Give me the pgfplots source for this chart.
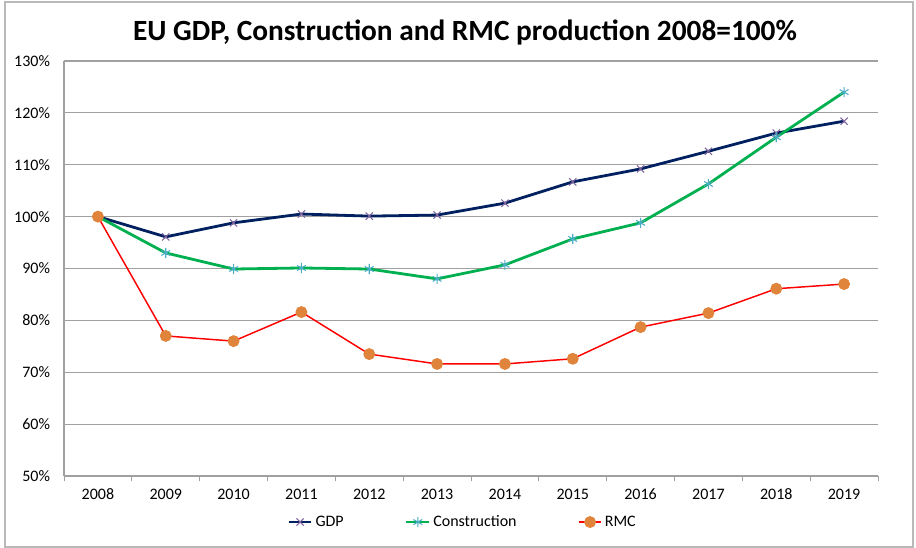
\documentclass[border=0pt]{standalone}
\usepackage{pgfplots}
\pgfplotsset{compat=1.18}
\usepackage{fontspec}
\setmainfont{Carlito}
\definecolor{gdpline}{HTML}{002060}
\definecolor{gdpmark}{HTML}{7E649E}
\definecolor{conline}{HTML}{00B050}
\definecolor{conmark}{HTML}{4BACC6}
\definecolor{rmcline}{HTML}{FF0000}
\definecolor{rmcmark}{HTML}{E0843C}
\definecolor{gridgray}{HTML}{A0A0A0}

\begin{document}
\begin{tikzpicture}
% page frame: 916 x 548 px at 0.75pt per px
\path[use as bounding box] (0pt,0pt) rectangle (687pt,411pt);
\draw[gray!55, line width=0.8pt] (3.75pt,0.75pt) rectangle (684.75pt,409.5pt);
\node[font=\bfseries\fontsize{22}{26}\selectfont] at (348.75pt,386.25pt) {EU GDP, Construction and RMC production 2008=100\%};
\begin{axis}[
    at={(48pt,54pt)}, anchor=south west,
    scale only axis,
    width=610.5pt, height=311.25pt,
    xmin=-0.5, xmax=11.5,
    ymin=50, ymax=130,
    xtick={0,...,11},
    xticklabels={2008,2009,2010,2011,2012,2013,2014,2015,2016,2017,2018,2019},
    minor xtick={-0.5,0.5,...,11.5},
    ytick={50,60,...,130},
    yticklabel={\pgfmathprintnumber{\tick}\%},
    /pgf/number format/assume math mode=true,
    ticklabel style={font=\fontsize{12}{14}\selectfont},
    xticklabel style={yshift=-6pt},
    yticklabel style={xshift=-7pt},
    major tick length=0pt,
    minor tick length=4pt,
    tick align=outside,
    tick style={gridgray, line width=0.7pt},
    axis x line*=bottom,
    axis y line*=left,
    axis line style={gridgray, line width=0.9pt},
    ymajorgrids,
    grid style={gridgray, line width=0.8pt},
    legend columns=3,
    legend style={draw=none, fill=none, at={(0.49,-0.111)}, anchor=center,
        font=\fontsize{12}{14}\selectfont,
        /tikz/every even column/.append style={column sep=44pt}},
    legend cell align=left,
]
\addplot[gdpline, line width=2.1pt, mark=x, mark size=3.8pt,
    mark options={gdpmark, line width=0.8pt}] coordinates {
    (0,100) (1,96.1) (2,98.8) (3,100.5) (4,100.1) (5,100.3)
    (6,102.6) (7,106.7) (8,109.2) (9,112.6) (10,116.1) (11,118.4)
};
\addlegendentry{GDP}
\addplot[conline, line width=2.1pt, mark=asterisk, mark size=3.8pt,
    mark options={conmark, line width=0.8pt}] coordinates {
    (0,100) (1,93.0) (2,89.9) (3,90.1) (4,89.9) (5,88.0)
    (6,90.7) (7,95.7) (8,98.8) (9,106.3) (10,115.3) (11,124.0)
};
\addlegendentry{Construction}
\addplot[rmcline, line width=1.1pt, mark=*, mark size=3.9pt,
    mark options={draw=rmcmark, fill=rmcmark}] coordinates {
    (0,100) (1,77.0) (2,76.0) (3,81.6) (4,73.5) (5,71.6)
    (6,71.6) (7,72.6) (8,78.7) (9,81.4) (10,86.1) (11,87.0)
};
\addlegendentry{RMC}
\end{axis}
\end{tikzpicture}
\end{document}
